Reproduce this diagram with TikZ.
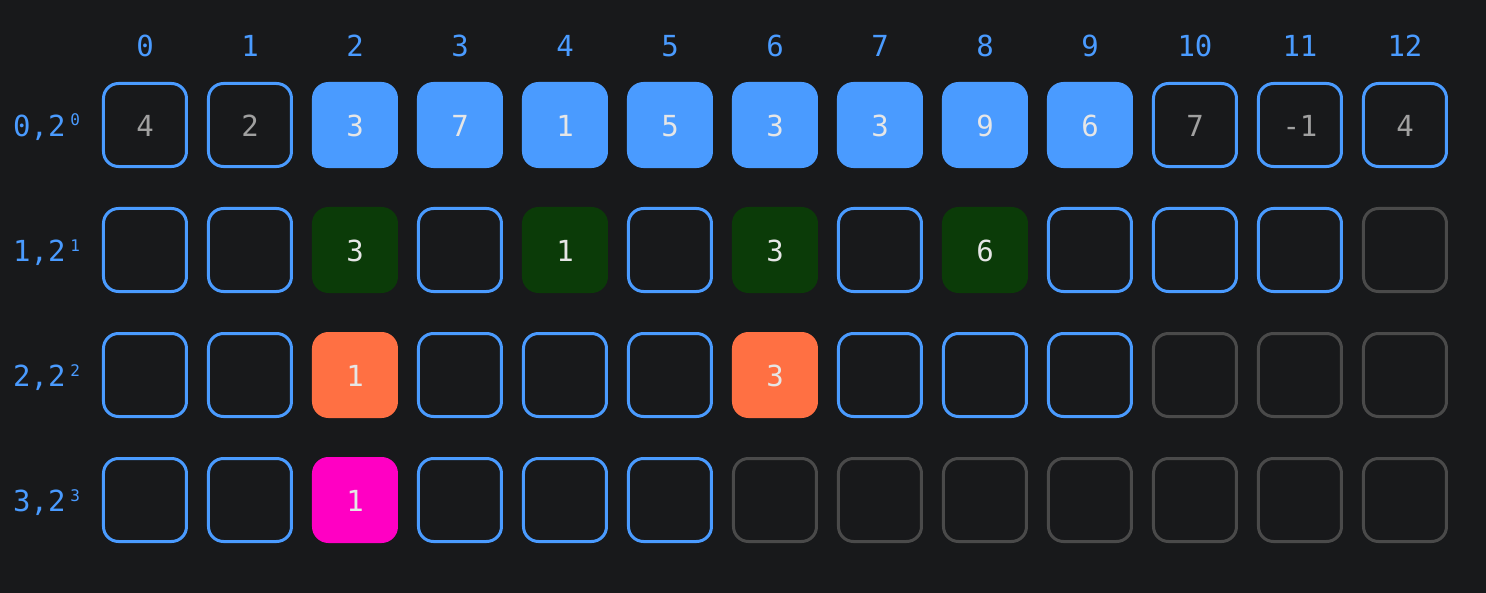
\documentclass[tikz,border=0pt]{standalone}
\usepackage{fontspec}
\setmonofont{DejaVu Sans Mono}
\usepackage{tikz}
\usetikzlibrary{matrix,calc,backgrounds}
\definecolor{bgdark}{HTML}{18191B}
\definecolor{boxblue}{HTML}{4A9BFF}
\definecolor{numgray}{HTML}{A0A0A0}
\definecolor{numlight}{HTML}{E6E6E6}
\definecolor{dimgray}{HTML}{4A4A4A}
\definecolor{lvlgreen}{HTML}{0B3B08}
\definecolor{lvlorange}{HTML}{FF7043}
\definecolor{lvlpink}{HTML}{FF00C3}
\newcommand{\pw}[1]{\,\raisebox{5pt}{\fontsize{8}{8}\selectfont#1}}
\tikzset{
cell/.style={
  draw=boxblue, line width=1.5pt, rounded corners=7.5pt,
  minimum size=41.5pt, inner sep=0pt,
  text height=11pt, text depth=0pt, text=numgray,
  font=\ttfamily\fontsize{14.5}{17}\selectfont
},
grid/.style={
  matrix of nodes,
  row sep=19.5pt,
  column sep=9.5pt,
  nodes={cell},
  nodes in empty cells
},
head/.style={draw=none, fill=none, minimum size=0pt, outer sep=0pt, text=boxblue},
lab/.style={draw=none, fill=none, minimum size=0pt, outer sep=0pt, text=boxblue, text depth=},
bfill/.style={fill=boxblue, text=numlight},
gfill/.style={fill=lvlgreen, draw=lvlgreen, text=numlight},
ofill/.style={fill=lvlorange, draw=lvlorange, text=numlight},
pfill/.style={fill=lvlpink, draw=lvlpink, text=numlight},
dim/.style={draw=dimgray},
}

\begin{document}
\begin{tikzpicture}
    \matrix (m) [grid, column 1/.style={nodes={lab}}, row 1/.style={nodes={head}}] {
                    &[1.5pt] 0 & 1 & 2 & 3 & 4 & 5 & 6 & 7 & 8 & 9 & 10 & 11 & 12 \\[-7pt]
        0,2\pw{0} & 4 & 2 & |[bfill]| 3 & |[bfill]| 7 & |[bfill]| 1 & |[bfill]| 5 & |[bfill]| 3 & |[bfill]| 3 & |[bfill]| 9 & |[bfill]| 6 & 7 & -1 & 4 \\
        1,2\pw{1} & & & |[gfill]| 3 & & |[gfill]| 1 & & |[gfill]| 3 & & |[gfill]| 6 & & & & |[dim]| \\
        2,2\pw{2} & & & |[ofill]| 1 & & & & |[ofill]| 3 & & & & |[dim]| & |[dim]| & |[dim]| \\
        3,2\pw{3} & & & |[pfill]| 1 & & & & |[dim]| & |[dim]| & |[dim]| & |[dim]| & |[dim]| & |[dim]| & |[dim]| \\
    };
    \begin{scope}[on background layer]
        \fill[bgdark] ($(m-2-2.center)+(-72.5pt,62.5pt)$) rectangle ($(m-2-2.center)+(670.5pt,-234pt)$);
    \end{scope}
\end{tikzpicture}
\end{document}
